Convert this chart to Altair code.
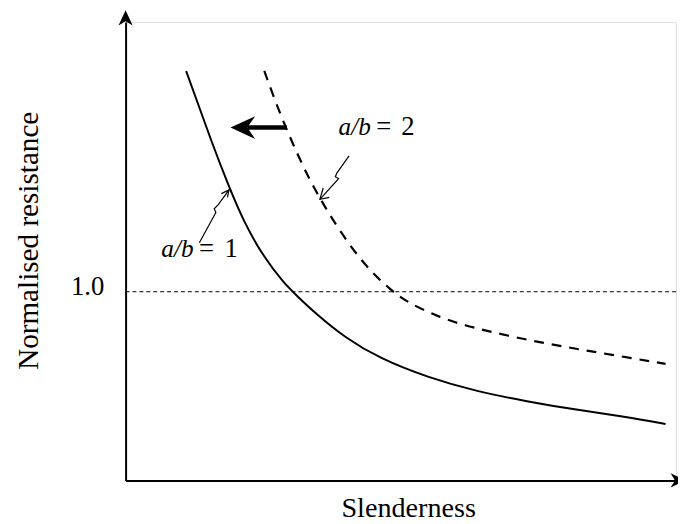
import altair as alt
import pandas as pd

# ---- data (abstract units: slenderness 0-10, normalised resistance 0-2.43) ----
solid_x = [1.10, 1.31, 1.54, 1.85, 2.15, 2.51, 2.87, 3.11, 3.47, 4.00, 4.60,
           5.49, 6.39, 7.29, 8.19, 9.08, 9.81]
solid_y = [2.17, 2.001, 1.812, 1.576, 1.367, 1.184, 1.047, 0.979, 0.880, 0.754, 0.649,
           0.545, 0.471, 0.419, 0.374, 0.338, 0.299]

dash_x = [2.52, 2.81, 3.23, 3.52, 3.88, 4.36, 4.84, 5.14, 5.62, 6.10, 7.00, 7.89, 8.79, 9.81]
dash_y = [2.17, 1.936, 1.656, 1.499, 1.325, 1.133, 1.002, 0.941, 0.875, 0.825, 0.762,
          0.712, 0.668, 0.618]

ref_y = [1.0]
ref_x = [0.0]
ref_x2 = [10.04]

# shift arrow (from a/b=2 curve towards a/b=1 curve)
arrow_x = [2.93]
arrow_x2 = [2.21]
arrow_y = [1.87]
arrow_head_x = [2.13]

# leader lines (group, x, y)
lead_group = ["l2"] * 5 + ["h2"] * 3 + ["l1"] * 5 + ["h1"] * 3
lead_x = [4.06, 3.84, 3.81, 3.87, 3.53,
          3.59, 3.53, 3.70,
          1.34, 1.64, 1.61, 1.68, 1.88,
          1.74, 1.88, 1.85]
lead_y = [1.72, 1.63, 1.61, 1.60, 1.49,
          1.55, 1.49, 1.50,
          1.26, 1.42, 1.44, 1.46, 1.54,
          1.52, 1.54, 1.50]

# curve labels: italic "a/b" part and roman "=", value parts
lab_it = ["a/b", "a/b"]
lab_it_x = [3.87, 0.65]
lab_it_y = [1.833, 1.184]
lab_rm = ["=", "2", "=", "1"]
lab_rm_x = [4.69, 5.13, 1.47, 1.92]
lab_rm_y = [1.833, 1.833, 1.184, 1.184]

y_tick_values = [1.0]
x_max = 10.0
y_max = 2.43

FONT = "Liberation Serif"

xs = alt.Scale(domain=[0, x_max], nice=False, zero=False)
ys = alt.Scale(domain=[0, y_max], nice=False, zero=False)

solid_df = pd.DataFrame({"x": solid_x, "y": solid_y})
dash_df = pd.DataFrame({"x": dash_x, "y": dash_y})
ref_df = pd.DataFrame({"x": ref_x, "x2": ref_x2, "y": ref_y})
arrow_df = pd.DataFrame({"x": arrow_x, "x2": arrow_x2, "y": arrow_y})
head_df = pd.DataFrame({"x": arrow_head_x, "y": arrow_y})
lead_df = pd.DataFrame({"g": lead_group, "x": lead_x, "y": lead_y,
                        "o": list(range(len(lead_x)))})
it_df = pd.DataFrame({"t": lab_it, "x": lab_it_x, "y": lab_it_y})
rm_df = pd.DataFrame({"t": lab_rm, "x": lab_rm_x, "y": lab_rm_y})
yarrow_df = pd.DataFrame({"x": [0.0], "y": [2.451]})
xarrow_df = pd.DataFrame({"x": [10.04], "y": [0.0]})

x_axis = alt.Axis(
    title="Slenderness", ticks=False, labels=False, grid=False,
    domain=True, domainColor="black", domainWidth=2,
    titleFont=FONT, titleFontSize=28.5, titleFontWeight="normal", titleColor="black",
    titleX=286, titleY=36, titleBaseline="alphabetic", titleAlign="center",
)
y_axis = alt.Axis(
    title="Normalised resistance", ticks=False, grid=False, values=y_tick_values,
    format=".1f", labelFont=FONT, labelFontSize=27, labelColor="black",
    labelPadding=22, labelBaseline="alphabetic", labelOffset=3,
    domain=True, domainColor="black", domainWidth=2,
    titleFont=FONT, titleFontSize=29.5, titleFontWeight="normal", titleColor="black",
    titleX=-98, titleY=221, titleAngle=270, titleAlign="center", titleBaseline="middle",
)

base_solid = alt.Chart(solid_df).mark_line(
    color="black", strokeWidth=2, interpolate="basis"
).encode(x=alt.X("x:Q", scale=xs, axis=x_axis), y=alt.Y("y:Q", scale=ys, axis=y_axis))

dashed = alt.Chart(dash_df).mark_line(
    color="black", strokeWidth=2.2, strokeDash=[10, 8], interpolate="basis"
).encode(x=alt.X("x:Q", scale=xs), y=alt.Y("y:Q", scale=ys))

ref = alt.Chart(ref_df).mark_rule(color="black", strokeWidth=1, strokeDash=[4, 3]).encode(
    x=alt.X("x:Q", scale=xs), x2="x2:Q", y=alt.Y("y:Q", scale=ys))

arrow_line = alt.Chart(arrow_df).mark_rule(color="black", strokeWidth=4.5).encode(
    x=alt.X("x:Q", scale=xs), x2="x2:Q", y=alt.Y("y:Q", scale=ys))

arrow_head = alt.Chart(head_df).mark_point(
    shape="M-1,0 L1,-0.92 L0.36,0 L1,0.92 Z", size=625, filled=True,
    color="black", opacity=1, strokeWidth=0
).encode(x=alt.X("x:Q", scale=xs), y=alt.Y("y:Q", scale=ys))

yarrow = alt.Chart(yarrow_df).mark_point(
    shape="M0,-1 L0.93,1 L0,0.43 L-0.93,1 Z", size=237, filled=True,
    color="black", opacity=1, strokeWidth=0
).encode(x=alt.X("x:Q", scale=xs), y=alt.Y("y:Q", scale=ys))

xarrow = alt.Chart(xarrow_df).mark_point(
    shape="M1,0 L-1,-0.93 L-0.43,0 L-1,0.93 Z", size=237, filled=True,
    color="black", opacity=1, strokeWidth=0
).encode(x=alt.X("x:Q", scale=xs), y=alt.Y("y:Q", scale=ys))

leaders = alt.Chart(lead_df).mark_line(color="black", strokeWidth=1.2).encode(
    x=alt.X("x:Q", scale=xs), y=alt.Y("y:Q", scale=ys), detail="g:N", order="o:Q")

lab_it_layer = alt.Chart(it_df).mark_text(
    font=FONT, fontSize=25.5, fontStyle="italic", align="left", baseline="alphabetic",
    color="black"
).encode(x=alt.X("x:Q", scale=xs), y=alt.Y("y:Q", scale=ys), text="t:N")

lab_rm_layer = alt.Chart(rm_df).mark_text(
    font=FONT, fontSize=27, align="center", baseline="alphabetic", color="black"
).encode(x=alt.X("x:Q", scale=xs), y=alt.Y("y:Q", scale=ys), text="t:N")

chart = alt.layer(
    ref, base_solid, dashed, arrow_line, arrow_head, leaders,
    lab_it_layer, lab_rm_layer, yarrow, xarrow
).properties(
    width=557, height=464,
    autosize=alt.AutoSizeParams(type="none"),
    padding={"left": 119, "top": 11, "right": 2, "bottom": 41},
).configure_view(strokeWidth=0).configure(background="white")

chart.save("out.html", embed_options={"renderer": "svg", "actions": False})
